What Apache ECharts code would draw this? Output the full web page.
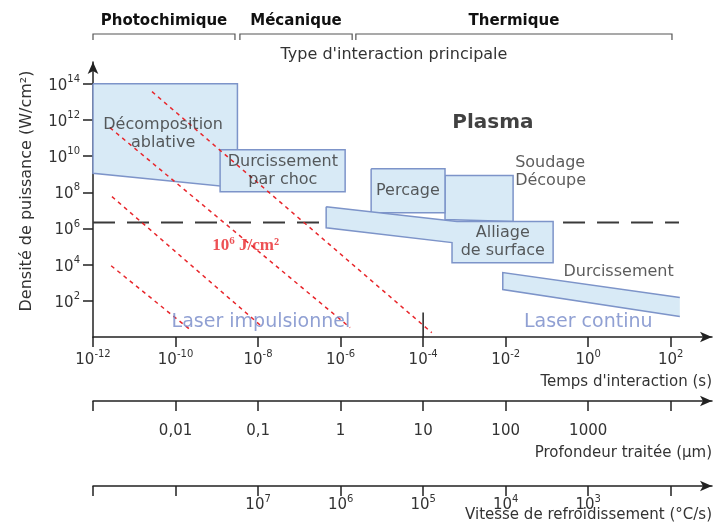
<!DOCTYPE html>
<html>
<head>
<meta charset="utf-8">
<script src="https://cdn.jsdelivr.net/npm/echarts@6/dist/echarts.min.js"></script>
<style>
  html, body { margin: 0; padding: 0; background: #fff; }
  #chart { width: 720px; height: 522px; }
</style>
</head>
<body>
<div id="chart"></div>
<script>
// everything is in log10 units: time (s) on x, power density (W/cm²) on y
const timeTicks = [-12, -10, -8, -6, -4, -2, 0, 2];
const powerTicks = [2, 4, 6, 8, 10, 12, 14];
const depthTicks = [-10, -8, -6, -4, -2, 0];
const depthLabels = ['0,01', '0,1', '1', '10', '100', '1000'];
const coolTicks = [-8, -6, -4, -2, 0];
const coolExponents = [7, 6, 5, 4, 3];

const interactionTypes = ['Photochimique', 'Mécanique', 'Thermique'];
const interactionBounds = [[-12, -8.56], [-8.44, -5.72], [-5.63, 2.03]];

// process domains (polygons)
const decompositionPts = [[-12, 14], [-8.5, 14], [-8.5, 8.25], [-12, 9.05]];
const chocPts = [[-8.92, 10.35], [-5.89, 10.35], [-5.89, 8.03], [-8.92, 8.03]];
const soudagePts = [[-3.47, 8.92], [-1.82, 8.92], [-1.82, 6.38], [-3.47, 6.5]];
const percagePts = [[-5.26, 9.3], [-3.47, 9.3], [-3.47, 6.87], [-5.26, 6.87]];
const alliagePts = [[-6.35, 7.2], [-3.18, 6.38], [-0.85, 6.38], [-0.85, 4.11], [-3.3, 4.11], [-3.3, 5.22], [-6.35, 6.04]];
const durcissementPts = [[2.22, 2.18], [-2.07, 3.56], [-2.07, 2.62], [2.22, 1.13]];
const regionShapes = [decompositionPts, chocPts, soudagePts, percagePts, alliagePts, durcissementPts];
const regionClosed = [true, true, true, true, true, false];

// iso-fluence lines (red dashes)
const fluenceLines = [
  [[-10.57, 13.56], [-3.79, 0.24]],
  [[-11.59, 11.57], [-5.77, 0.52]],
  [[-11.54, 7.76], [-7.88, 0.52]],
  [[-11.56, 3.94], [-9.65, 0.41]]
];

// plasma threshold (black dashes)
const thresholdLevel = 6.33;
const thresholdSegments = [[-12, -6.38], [-0.61, 2.2]];

// pulsed / continuous separator
const separatorX = -4;
const separatorTop = 1.35;

const regionLabels = [
  [-10.3, 11.24, 'Décomposition\nablative'],
  [-7.4, 9.19, 'Durcissement\npar choc'],
  [-4.37, 8.09, 'Percage'],
  [-2.07, 5.27, 'Alliage\nde surface']
];
const sideLabels = [
  [-1.77, 9.14, 'Soudage\nDécoupe'],
  [-0.6, 3.61, 'Durcissement']
];
const plasmaLabel = [-2.31, 11.85, 'Plasma'];
const laserLabels = [
  [-7.93, 0.8, 'Laser impulsionnel'],
  [0.0, 0.8, 'Laser continu']
];
const fluenceLabel = [-8.3, 5.05, '10{s|6} J/cm²'];

const ink = '#333';
const fontFamily = '"DejaVu Sans", sans-serif';
const serifFamily = '"Liberation Serif", serif';

const powRich = {
  b: { fontSize: 15, color: ink, fontFamily, verticalAlign: 'bottom' },
  s: { fontSize: 10, color: ink, fontFamily, padding: [0, 0, 9, 0], verticalAlign: 'bottom' }
};
function pow(e) {
  return '{b|10}{s|' + e + '}';
}

const chartDom = document.getElementById('chart');
const chart = echarts.init(chartDom);

function renderRegion(params, api) {
  const k = api.value(2);
  const pts = regionShapes[k].map(p => api.coord(p));
  const outline = regionClosed[k] ? pts.concat([pts[0]]) : pts;
  return {
    type: 'group',
    children: [
      { type: 'polygon', shape: { points: pts }, style: { fill: '#d8eaf6' } },
      { type: 'polyline', shape: { points: outline }, style: { stroke: '#7d94c9', lineWidth: 1.5, fill: null } }
    ]
  };
}

function textItems(list, extra) {
  return list.map(d => ({
    value: [d[0], d[1]],
    label: Object.assign({ show: true, formatter: d[2], position: 'inside', fontFamily }, extra)
  }));
}

const axisLineStyle = { color: '#222', width: 1.5 };

const option = {
  animation: false,
  textStyle: { fontFamily },
  grid: { left: 93, right: 8, top: 62, bottom: 185, containLabel: false, outerBoundsMode: 'none' },
  xAxis: [
    {
      type: 'value', min: -12, max: 3, position: 'bottom',
      axisLine: { show: true, onZero: false, lineStyle: axisLineStyle, symbol: ['none', 'arrow'], symbolSize: [8, 12] },
      axisTick: { show: true, customValues: timeTicks, length: 10, lineStyle: axisLineStyle },
      axisLabel: { customValues: timeTicks, formatter: v => pow(v), rich: powRich, margin: 12 },
      splitLine: { show: false },
      name: "Temps d'interaction (s)", nameLocation: 'end', nameGap: 0, nameMoveOverlap: false,
      nameTextStyle: { color: ink, fontSize: 15, align: 'right', verticalAlign: 'top', padding: [38, 0, 0, 0] }
    },
    {
      type: 'value', min: -12, max: 3, position: 'bottom', offset: 64,
      axisLine: { show: true, onZero: false, lineStyle: axisLineStyle, symbol: ['none', 'arrow'], symbolSize: [8, 12] },
      axisTick: { show: true, customValues: timeTicks, length: 10, lineStyle: axisLineStyle },
      axisLabel: {
        customValues: depthTicks, margin: 23, color: ink, fontSize: 15,
        formatter: v => depthLabels[depthTicks.indexOf(v)]
      },
      splitLine: { show: false },
      name: 'Profondeur traitée (µm)', nameLocation: 'end', nameGap: 0, nameMoveOverlap: false,
      nameTextStyle: { color: ink, fontSize: 15, align: 'right', verticalAlign: 'top', padding: [45, 0, 0, 0] }
    },
    {
      type: 'value', min: -12, max: 3, position: 'bottom', offset: 149,
      axisLine: { show: true, onZero: false, lineStyle: axisLineStyle, symbol: ['none', 'arrow'], symbolSize: [8, 12] },
      axisTick: { show: true, customValues: timeTicks, length: 10, lineStyle: axisLineStyle },
      axisLabel: {
        customValues: coolTicks, margin: 8, rich: powRich,
        formatter: v => pow(coolExponents[coolTicks.indexOf(v)])
      },
      splitLine: { show: false },
      name: 'Vitesse de refroidissement (°C/s)', nameLocation: 'end', nameGap: 0, nameMoveOverlap: false,
      nameTextStyle: { color: ink, fontSize: 15, align: 'right', verticalAlign: 'top', padding: [22, 0, 0, 0] }
    }
  ],
  yAxis: {
    type: 'value', min: 0, max: 15.2,
    axisLine: { show: true, onZero: false, lineStyle: axisLineStyle, symbol: ['none', 'arrow'], symbolSize: [8, 12] },
    axisTick: { show: true, customValues: powerTicks, length: 10, lineStyle: axisLineStyle },
    axisLabel: { customValues: powerTicks, formatter: v => pow(v), rich: powRich, margin: 13 },
    splitLine: { show: false },
    name: 'Densité de puissance (W/cm²)', nameLocation: 'middle', nameGap: 58, nameRotate: 90, nameMoveOverlap: false,
    nameTextStyle: { color: ink, fontSize: 16, padding: [0, 0, 0, 17] }
  },
  series: [
    {
      type: 'custom', z: 2,
      renderItem: renderRegion,
      data: regionShapes.map((s, i) => [s[0][0], s[0][1], i])
    },
    ...fluenceLines.map(l => ({
      type: 'line', z: 4, symbol: 'none', silent: true,
      lineStyle: { color: '#e8262b', width: 1.5, type: [4, 4] },
      data: l
    })),
    ...thresholdSegments.map(seg => ({
      type: 'line', z: 3, symbol: 'none', silent: true,
      lineStyle: { color: '#3a3a3a', width: 2, type: [22, 12] },
      data: [[seg[0], thresholdLevel], [seg[1], thresholdLevel]]
    })),
    {
      type: 'line', z: 3, symbol: 'none', silent: true,
      lineStyle: { color: '#222', width: 1.5 },
      data: [[separatorX, 0], [separatorX, separatorTop]]
    },
    {
      type: 'scatter', z: 5, symbolSize: 0, silent: true,
      data: [
        ...textItems(regionLabels, { color: ink, fontSize: 16, lineHeight: 18 }),
        ...textItems(sideLabels, { color: ink, fontSize: 16, lineHeight: 18, align: 'left' }),
        ...textItems([plasmaLabel], { color: '#111', fontSize: 20, fontWeight: 'bold' }),
        ...textItems(laserLabels, { color: '#7488c8', fontSize: 19 }),
        ...textItems([fluenceLabel], {
          color: '#e8262b', fontSize: 17, fontWeight: 'bold', fontFamily: serifFamily,
          rich: { s: { color: '#e8262b', fontSize: 11, fontWeight: 'bold', fontFamily: serifFamily, padding: [0, 0, 8, 0] } }
        })
      ]
    }
  ]
};

chart.setOption(option);

// interaction-type brackets along the top, placed from the time axis
const bracketY = 34;
const graphics = [];
interactionTypes.forEach((name, i) => {
  const x0 = chart.convertToPixel({ xAxisIndex: 0 }, interactionBounds[i][0]);
  const x1 = chart.convertToPixel({ xAxisIndex: 0 }, interactionBounds[i][1]);
  graphics.push({
    type: 'polyline',
    shape: { points: [[x0, bracketY + 6], [x0, bracketY], [x1, bracketY], [x1, bracketY + 6]] },
    style: { stroke: '#555', lineWidth: 1.2, fill: null }
  });
  graphics.push({
    type: 'text', x: (x0 + x1) / 2, y: 21,
    style: { text: name, fill: '#111', font: 'bold 15px ' + fontFamily, align: 'center', verticalAlign: 'middle' }
  });
});
graphics.push({
  type: 'text', x: 394, y: 55,
  style: { text: "Type d'interaction principale", fill: ink, font: '16px ' + fontFamily, align: 'center', verticalAlign: 'middle' }
});
chart.setOption({ graphic: graphics });
</script>
</body>
</html>
